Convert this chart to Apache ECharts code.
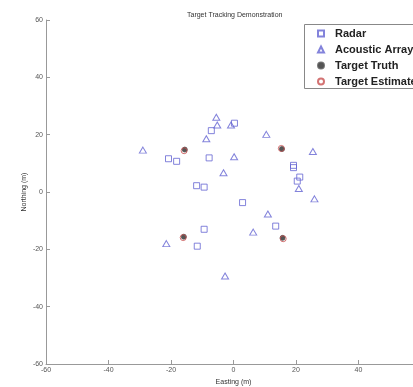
<!DOCTYPE html>
<html>
<head>
<meta charset="utf-8">
<script src="https://cdn.jsdelivr.net/npm/echarts@6/dist/echarts.min.js"></script>
<style>
html,body{margin:0;padding:0;background:#fff;}
#chart{width:413px;height:387px;}
</style>
</head>
<body>
<div id="chart"></div>
<script>
var chartTitle = 'Target Tracking Demonstration';
var xName = 'Easting (m)';
var yName = 'Northing (m)';
var seriesNames = ['Radar', 'Acoustic Array', 'Target Truth', 'Target Estimate'];

var radarPoints = [
  [0.3, 24.0], [-7.1, 21.4], [-20.8, 11.6], [-18.2, 10.7], [-7.8, 11.9],
  [19.2, 9.3], [19.2, 8.5], [21.2, 5.2], [20.4, 3.8], [-11.8, 2.2],
  [-9.4, 1.7], [2.9, -3.7], [13.5, -11.9], [-9.4, -13.0], [-11.6, -18.9]
];
var acousticPoints = [
  [-5.5, 26.1], [-5.2, 23.4], [-0.8, 23.4], [10.5, 20.1], [-8.7, 18.6],
  [-29.0, 14.6], [25.4, 14.1], [0.2, 12.3], [-3.2, 6.7], [20.9, 1.2],
  [25.9, -2.4], [11.0, -7.7], [6.3, -14.0], [-21.5, -18.0], [-2.7, -29.3]
];
var truthPoints = [
  [-15.6, 14.8], [15.5, 15.0], [-15.9, -15.6], [15.7, -16.0]
];
var estimatePoints = [
  [-15.8, 14.4], [15.3, 15.2], [-16.1, -15.9], [15.9, -16.3]
];

var blue = '#6464d2';
var fontFam = '"Liberation Sans", Arial, sans-serif';

var chart = echarts.init(document.getElementById('chart'));
chart.setOption({
  animation: false,
  backgroundColor: '#fff',
  title: {
    text: chartTitle,
    left: 182,
    top: 7,
    textStyle: { fontSize: 7, fontWeight: 'normal', color: '#333', fontFamily: fontFam }
  },
  graphic: [{
    type: 'rect',
    left: 304, top: 24,
    shape: { width: 140, height: 64 },
    style: { fill: '#fff', stroke: '#888', lineWidth: 1 },
    z: 5
  }],
  grid: { left: 46, top: 20, width: 375, height: 344, containLabel: false, outerBoundsMode: 'none' },
  legend: {
    orient: 'vertical',
    left: 304,
    top: 24,
    padding: [4, 8, 4, 13],
    itemGap: 5,
    itemWidth: 6,
    itemHeight: 6,
    borderWidth: 0,
    z: 10,
    data: seriesNames,
    textStyle: { fontSize: 11, fontWeight: 'bold', color: '#222', lineHeight: 10, padding: [0, 0, 0, 6], fontFamily: fontFam }
  },
  xAxis: {
    type: 'value',
    min: -60, max: 60, interval: 20,
    name: xName,
    nameLocation: 'middle',
    nameGap: 13,
    nameTextStyle: { fontSize: 7, color: '#333', fontFamily: fontFam },
    axisLine: { show: true, onZero: false, lineStyle: { color: '#999', width: 1 } },
    axisTick: { show: true, inside: true, length: 4, lineStyle: { color: '#999' } },
    axisLabel: { fontSize: 7, color: '#555', margin: 3, fontFamily: fontFam },
    splitLine: { show: false }
  },
  yAxis: {
    type: 'value',
    min: -60, max: 60, interval: 20,
    name: yName,
    nameLocation: 'middle',
    nameGap: 18,
    nameMoveOverlap: false,
    nameTextStyle: { fontSize: 7, color: '#333', fontFamily: fontFam },
    axisLine: { show: true, onZero: false, lineStyle: { color: '#999', width: 1 } },
    axisTick: { show: true, inside: true, length: 4, lineStyle: { color: '#999' } },
    axisLabel: { fontSize: 7, color: '#555', margin: 3, fontFamily: fontFam },
    splitLine: { show: false }
  },
  series: [
    {
      name: seriesNames[0], type: 'scatter', data: radarPoints,
      symbol: 'rect', symbolSize: 6,
      itemStyle: { color: 'rgba(255,255,255,0)', borderColor: blue, borderWidth: 1 }
    },
    {
      name: seriesNames[1], type: 'scatter', data: acousticPoints,
      symbol: 'triangle', symbolSize: [7, 6],
      itemStyle: { color: 'rgba(255,255,255,0)', borderColor: blue, borderWidth: 1 }
    },
    {
      name: seriesNames[2], type: 'scatter', data: truthPoints,
      symbol: 'circle', symbolSize: 5,
      itemStyle: { color: '#2a2a2a', borderColor: '#555', borderWidth: 1 }
    },
    {
      name: seriesNames[3], type: 'scatter', data: estimatePoints,
      symbol: 'circle', symbolSize: 6,
      itemStyle: { color: 'rgba(255,255,255,0)', borderColor: '#c85050', borderWidth: 1 }
    }
  ]
});
</script>
</body>
</html>
